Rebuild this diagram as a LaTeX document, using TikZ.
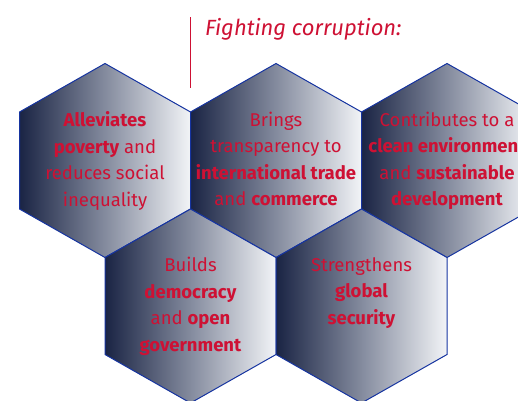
\documentclass[tikz,border=0pt]{standalone}
\usepackage{fontspec}
\setmainfont{Fira Sans}
\definecolor{tired}{RGB}{206,17,52}
\definecolor{hexblue}{RGB}{22,52,160}
\definecolor{hexdark}{RGB}{26,36,68}
\definecolor{hexmid}{RGB}{132,139,158}
\definecolor{hexlight}{RGB}{242,244,247}
\tikzset{
  hexa/.style={draw=hexblue, line width=1pt, left color=hexdark, right color=hexlight, middle color=hexmid},
  hextext/.style={text=tired, align=center, inner sep=0pt, anchor=north, font=\fontsize{18.5}{26.5}\selectfont},
}
\begin{document}
\begin{tikzpicture}[x=1pt,y=-1pt]
\useasboundingbox (0,0) rectangle (518,400);
\clip (0,0) rectangle (518,400);

% Define coordinates (hexagon centres)
\coordinate (c1) at (105,160.5);
\coordinate (c2) at (276,160.5);
\coordinate (c3) at (447,160.5);
\coordinate (c4) at (190.5,306);
\coordinate (c5) at (361.5,306);
\coordinate (rtop) at (190,17);
\coordinate (rbot) at (190,88);

% Draw the hexagons
\foreach \c in {c1,c2,c3,c4,c5}
  \draw[hexa] (\c) ++(0,-97) -- ++(85.5,48.5) -- ++(0,97) -- ++(-85.5,48.5) -- ++(-85.5,-48.5) -- ++(0,-97) -- cycle;

% Title and red rule
\draw[tired, line width=1pt] (rtop) -- (rbot);
\node[anchor=base west, inner sep=0pt, text=tired, font=\fontsize{22}{26}\selectfont\itshape] (title) at (205,35) {Fighting corruption:};

% Add labels
\node[hextext] (t1) at ([yshift=49pt]c1) {\textbf{Alleviates}\\\textbf{poverty} and\\reduces social\\inequality};
\node[hextext] (t2) at ([yshift=49pt]c2) {Brings\\transparency to\\\textbf{international trade}\\and \textbf{commerce}};
\node[hextext] (t3) at ([yshift=49pt]c3) {Contributes to a\\\textbf{clean environment}\\and \textbf{sustainable}\\\textbf{development}};
\node[hextext] (t4) at ([yshift=49pt]c4) {Builds\\\textbf{democracy}\\and \textbf{open}\\\textbf{government}};
\node[hextext] (t5) at ([yshift=49pt]c5) {Strengthens\\\textbf{global}\\\textbf{security}};

\end{tikzpicture}
\end{document}
